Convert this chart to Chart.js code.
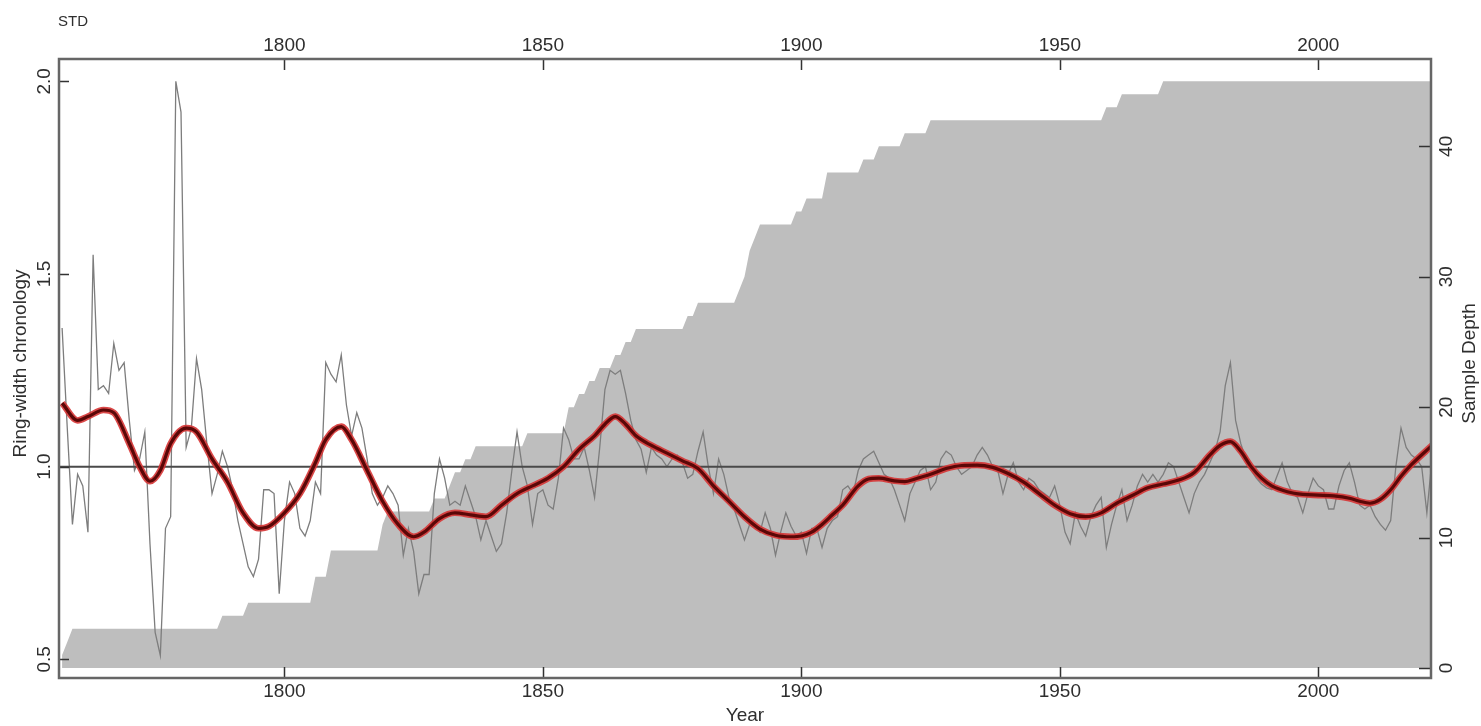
<!DOCTYPE html>
<html>
<head>
<meta charset="utf-8">
<title>STD chronology</title>
<script src="https://cdn.jsdelivr.net/npm/chart.js@4.4.1/dist/chart.umd.min.js"></script>
<style>
    html, body { margin: 0; padding: 0; background: #fff; }
    #wrap { width: 1481px; height: 726px; position: relative; }
</style>
</head>
<body>
<div id="wrap"><canvas id="crnChart"></canvas></div>
<script>
/* -------- data -------- */
const firstYear = 1757;

// standard ring-width chronology, one value per year from 1757
const rawValues = [
    1.36, 1.10, 0.85, 0.98, 0.95, 0.83, 1.55, 1.20, 1.21, 1.19, // 1757-1766
    1.32, 1.25, 1.27, 1.12, 0.99, 1.02, 1.09, 0.80, 0.57, 0.51, // 1767-1776
    0.84, 0.87, 2.00, 1.92, 1.05, 1.10, 1.28, 1.20, 1.06, 0.93, // 1777-1786
    0.98, 1.04, 1.00, 0.94, 0.86, 0.80, 0.74, 0.715, 0.76, 0.94, // 1787-1796
    0.94, 0.93, 0.67, 0.86, 0.96, 0.93, 0.84, 0.82, 0.86, 0.96, // 1797-1806
    0.93, 1.27, 1.24, 1.22, 1.29, 1.16, 1.08, 1.14, 1.10, 1.02, // 1807-1816
    0.93, 0.90, 0.92, 0.95, 0.93, 0.90, 0.77, 0.84, 0.78, 0.67, // 1817-1826
    0.72, 0.72, 0.93, 1.02, 0.97, 0.90, 0.91, 0.90, 0.95, 0.91, // 1827-1836
    0.87, 0.81, 0.86, 0.82, 0.78, 0.80, 0.88, 0.99, 1.09, 1.00, // 1837-1846
    0.95, 0.85, 0.93, 0.94, 0.90, 0.89, 0.97, 1.10, 1.07, 1.02, // 1847-1856
    1.02, 1.05, 0.99, 0.92, 1.05, 1.20, 1.25, 1.24, 1.25, 1.19, // 1857-1866
    1.12, 1.07, 1.045, 0.985, 1.05, 1.03, 1.02, 1.00, 1.02, 1.03, // 1867-1876
    1.01, 0.97, 0.98, 1.04, 1.09, 1.00, 0.93, 1.02, 0.98, 0.92, // 1877-1886
    0.89, 0.85, 0.81, 0.85, 0.85, 0.83, 0.88, 0.84, 0.77, 0.83, // 1887-1896
    0.88, 0.845, 0.82, 0.83, 0.775, 0.84, 0.84, 0.79, 0.84, 0.86, // 1897-1906
    0.87, 0.94, 0.95, 0.93, 0.99, 1.02, 1.03, 1.04, 1.01, 0.98, // 1907-1916
    0.97, 0.94, 0.90, 0.86, 0.93, 0.96, 0.99, 1.00, 0.94, 0.96, // 1917-1926
    1.02, 1.04, 1.03, 1.00, 0.98, 0.99, 1.00, 1.03, 1.05, 1.03, // 1927-1936
    1.00, 0.99, 0.93, 0.98, 1.01, 0.96, 0.94, 0.97, 0.96, 0.94, // 1937-1946
    0.93, 0.92, 0.95, 0.90, 0.83, 0.80, 0.88, 0.845, 0.82, 0.87, // 1947-1956
    0.90, 0.92, 0.79, 0.85, 0.90, 0.94, 0.86, 0.90, 0.95, 0.98, // 1957-1966
    0.96, 0.98, 0.96, 0.98, 1.01, 1.00, 0.96, 0.92, 0.88, 0.93, // 1967-1976
    0.96, 0.98, 1.01, 1.04, 1.09, 1.21, 1.27, 1.12, 1.06, 1.02, // 1977-1986
    0.99, 0.97, 0.955, 0.945, 0.94, 0.975, 1.01, 0.96, 0.93, 0.92, // 1987-1996
    0.88, 0.93, 0.97, 0.95, 0.94, 0.89, 0.89, 0.95, 0.99, 1.01, // 1997-2006
    0.96, 0.90, 0.89, 0.90, 0.87, 0.85, 0.835, 0.86, 1.00, 1.10, // 2007-2016
    1.05, 1.03, 1.02, 1.00, 0.88, 1.02                           // 2017-2022
];

// smoothing spline
const splineYears = [
    1757, 1760, 1762, 1765, 1767, 1770, 1772, 1774, 1776, 1778, 1781, 1783,
    1786, 1789, 1792, 1795, 1797, 1800, 1803, 1806, 1808, 1811, 1813, 1816,
    1819, 1822, 1825, 1827, 1830, 1833, 1836, 1839, 1842, 1845, 1848, 1851,
    1854, 1857, 1860, 1862, 1864, 1866, 1868, 1871, 1874, 1877, 1880, 1883,
    1886, 1889, 1892, 1895, 1898, 1900, 1902, 1904, 1906, 1908, 1911, 1913,
    1915, 1918, 1920, 1922, 1925, 1928, 1931, 1934, 1937, 1940, 1943, 1946,
    1949, 1952, 1955, 1958, 1961, 1964, 1967, 1970, 1973, 1976, 1979, 1981,
    1983, 1985, 1987, 1989, 1991, 1994, 1997, 2000, 2003, 2006, 2008, 2010,
    2012, 2014, 2016, 2018, 2022
];
const splineValues = [
    1.165, 1.12, 1.13, 1.147, 1.14, 1.06, 1.00, 0.962, 0.99, 1.06, 1.10, 1.09,
    1.02, 0.96, 0.88, 0.84, 0.845, 0.88, 0.93, 1.01, 1.07, 1.104, 1.07, 0.99,
    0.91, 0.85, 0.818, 0.83, 0.865, 0.88, 0.875, 0.87, 0.90, 0.93, 0.95, 0.97,
    1.00, 1.045, 1.08, 1.11, 1.13, 1.11, 1.08, 1.055, 1.035, 1.015, 0.995, 0.95,
    0.91, 0.87, 0.838, 0.822, 0.818, 0.82, 0.83, 0.85, 0.875, 0.90, 0.95, 0.968,
    0.97, 0.963, 0.961, 0.968, 0.98, 0.995, 1.003, 1.004, 0.998, 0.982, 0.96, 0.93,
    0.90, 0.878, 0.87, 0.88, 0.905, 0.925, 0.945, 0.955, 0.965, 0.985, 1.03, 1.055,
    1.065, 1.04, 1.00, 0.97, 0.95, 0.935, 0.928, 0.926, 0.924, 0.918, 0.91, 0.905,
    0.915, 0.94, 0.975, 1.005, 1.055
];

// sample depth: years where the number of series changes
const depthYears = [
    1757, 1758, 1759, 1787, 1788, 1792, 1793, 1805, 1806, 1808, 1809, 1818,
    1819, 1820, 1828, 1829, 1831, 1832, 1833, 1834, 1835, 1836, 1837, 1846,
    1847, 1854, 1855, 1856, 1857, 1858, 1859, 1860, 1861, 1863, 1864, 1865,
    1866, 1867, 1868, 1877, 1878, 1879, 1880, 1887, 1888, 1889, 1890, 1891,
    1892, 1898, 1899, 1900, 1901, 1904, 1905, 1911, 1912, 1914, 1915, 1919,
    1920, 1924, 1925, 1958, 1959, 1961, 1962, 1969, 1970, 2022
];
const depthValues = [
    1, 2, 3, 3, 4, 4, 5, 5, 7, 7, 9, 9,
    11, 12, 12, 13, 13, 14, 15, 15, 16, 16, 17, 17,
    18, 18, 20, 20, 21, 21, 22, 22, 23, 23, 24, 24,
    25, 25, 26, 26, 27, 27, 28, 28, 29, 30, 32, 33,
    34, 34, 35, 35, 36, 36, 38, 38, 39, 39, 40, 40,
    41, 41, 42, 42, 43, 43, 44, 44, 45, 45
];

const yearTicks = [1800, 1850, 1900, 1950, 2000];
const rwTicks = [0.5, 1.0, 1.5, 2.0];
const depthTicks = [0, 10, 20, 30, 40];

/* -------- chart -------- */
const FONT = '"Liberation Sans", Arial, Helvetica, sans-serif';
const INK = '#2e2e2e';

function pts(xs, ys) {
    return xs.map((x, i) => ({ x: x, y: ys[i] }));
}
const rawPoints = rawValues.map((v, i) => ({ x: firstYear + i, y: v }));

// R style frame: box, inward ticks, rotated y labels, abline(h = 1)
const rFrame = {
    id: 'rFrame',
    beforeDatasetDraw(chart, args) {
        if (args.index !== 2) return;
        const { ctx, chartArea: a } = chart;
        const y = chart.scales.y.getPixelForValue(1);
        ctx.save();
        ctx.strokeStyle = '#4a4a4a';
        ctx.lineWidth = 2;
        ctx.beginPath();
        ctx.moveTo(a.left, y);
        ctx.lineTo(a.right, y);
        ctx.stroke();
        ctx.restore();
    },
    afterDraw(chart) {
        const { ctx, chartArea: a, scales } = chart;
        const midY = (a.top + a.bottom) / 2 - 5;
        ctx.save();
        ctx.strokeStyle = '#333';
        ctx.lineWidth = 1.5;
        ctx.beginPath();
        yearTicks.forEach((yr) => {
            const x = Math.round(scales.x.getPixelForValue(yr)) + 0.5;
            ctx.moveTo(x, a.bottom);
            ctx.lineTo(x, a.bottom - 11);
            ctx.moveTo(x, a.top);
            ctx.lineTo(x, a.top + 11);
        });
        rwTicks.forEach((v) => {
            const y = Math.round(scales.y.getPixelForValue(v)) + 0.5;
            ctx.moveTo(a.left, y);
            ctx.lineTo(a.left + 10, y);
        });
        depthTicks.forEach((v) => {
            const y = Math.round(scales.depth.getPixelForValue(v)) + 0.5;
            ctx.moveTo(a.right, y);
            ctx.lineTo(a.right - 12, y);
        });
        ctx.stroke();

        ctx.strokeStyle = '#666';
        ctx.lineWidth = 2.5;
        ctx.strokeRect(a.left, a.top, a.right - a.left, a.bottom - a.top);

        ctx.fillStyle = INK;
        ctx.font = '19px ' + FONT;
        ctx.textAlign = 'center';
        ctx.textBaseline = 'middle';
        yearTicks.forEach((yr) => {
            const x = scales.x.getPixelForValue(yr);
            ctx.fillText(String(yr), x, a.bottom + 14);
            ctx.fillText(String(yr), x, a.top - 13);
        });
        ctx.fillText('Year', (a.left + a.right) / 2, 716);

        const rotText = (txt, x, y) => {
            ctx.save();
            ctx.translate(x, y);
            ctx.rotate(-Math.PI / 2);
            ctx.fillText(txt, 0, 0);
            ctx.restore();
        };
        rwTicks.forEach((v) => rotText(v.toFixed(1), a.left - 14, scales.y.getPixelForValue(v)));
        depthTicks.forEach((v) => rotText(String(v), a.right + 16, scales.depth.getPixelForValue(v)));
        rotText('Ring-width chronology', 21, midY);
        rotText('Sample Depth', a.right + 39, midY);

        ctx.font = '15px ' + FONT;
        ctx.textAlign = 'left';
        ctx.fillText('STD', 58, 22);
        ctx.restore();
    },
};

const chart = new Chart(document.getElementById('crnChart'), {
    type: 'line',
    data: {
        datasets: [
            {
                label: 'Sample depth',
                data: pts(depthYears, depthValues),
                yAxisID: 'depth',
                borderWidth: 0,
                pointRadius: 0,
                fill: 'origin',
                backgroundColor: '#bebebe',
                tension: 0,
                order: 4,
            },
            {
                label: 'Chronology',
                data: rawPoints,
                yAxisID: 'y',
                borderColor: '#7d7d7d',
                borderWidth: 1.3,
                pointRadius: 0,
                fill: false,
                tension: 0,
                order: 3,
            },
            {
                label: 'Spline halo',
                data: pts(splineYears, splineValues),
                yAxisID: 'y',
                borderColor: 'rgba(214, 52, 52, 0.9)',
                borderWidth: 6.5,
                pointRadius: 0,
                fill: false,
                cubicInterpolationMode: 'monotone',
                order: 2,
            },
            {
                label: 'Spline',
                data: pts(splineYears, splineValues),
                yAxisID: 'y',
                borderColor: '#5a0707',
                borderWidth: 3.2,
                pointRadius: 0,
                fill: false,
                cubicInterpolationMode: 'monotone',
                order: 1,
            },
        ],
    },
    options: {
        responsive: true,
        maintainAspectRatio: false,
        animation: false,
        devicePixelRatio: 1,
        layout: { padding: { left: 59, right: 50, top: 59, bottom: 48 } },
        plugins: { legend: { display: false }, tooltip: { enabled: false } },
        scales: {
            x: { type: 'linear', min: 1756.4, max: 2021.8, display: false },
            y: { type: 'linear', min: 0.4514, max: 2.058, display: false },
            depth: { type: 'linear', position: 'right', min: -0.77, max: 46.7, display: false },
        },
    },
    plugins: [rFrame],
});
</script>
</body>
</html>
